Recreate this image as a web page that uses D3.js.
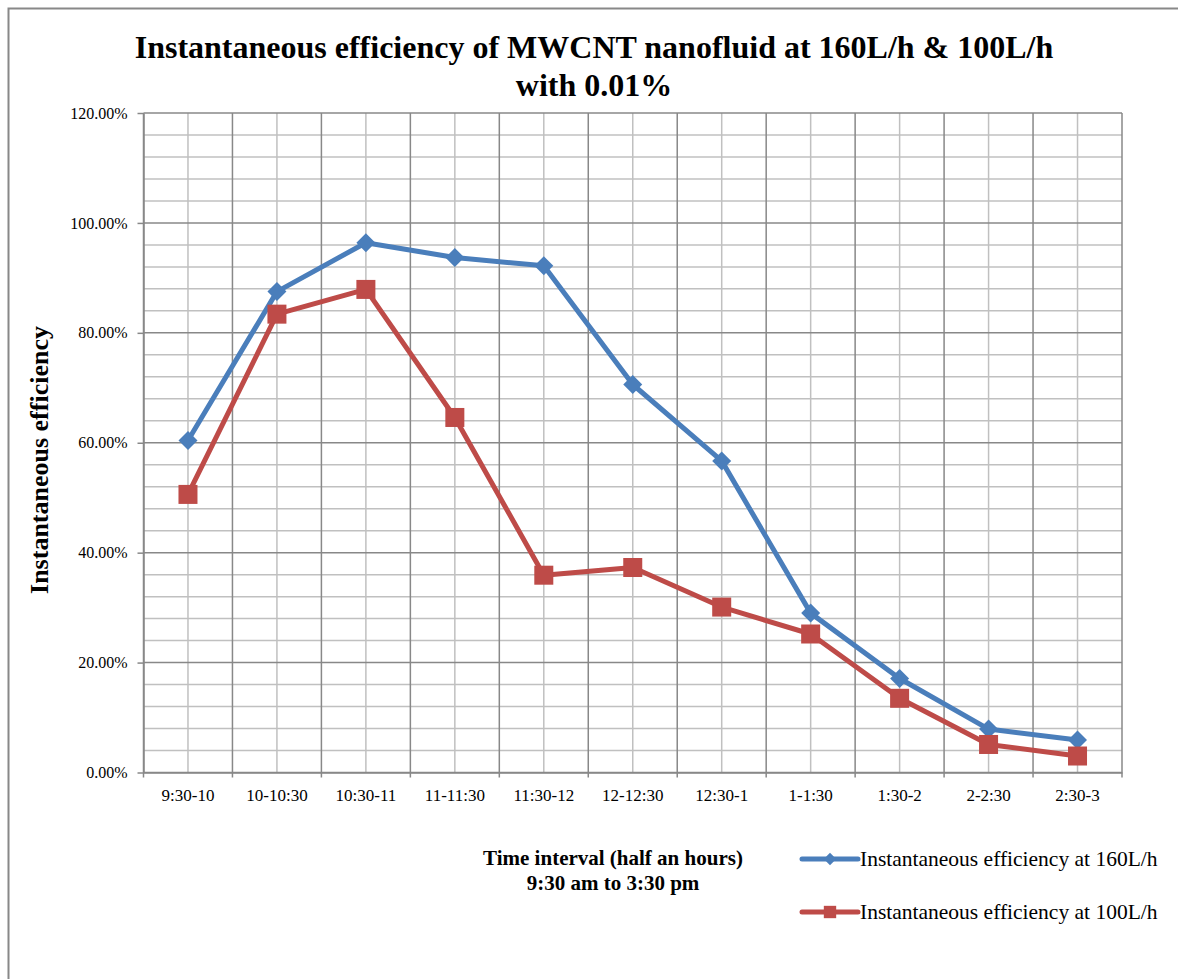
<!DOCTYPE html>
<html>
<head>
<meta charset="utf-8">
<script src="https://cdn.jsdelivr.net/npm/d3@7"></script>
<style>
  body { margin: 0; background: #fff; }
  svg { display: block; font-family: "Liberation Serif", "Times New Roman", serif; }
</style>
</head>
<body>
<svg id="chart" width="1178" height="979"></svg>
<script>
// Données
const categories = ['9:30-10', '10-10:30', '10:30-11', '11-11:30', '11:30-12', '12-12:30',
  '12:30-1', '1-1:30', '1:30-2', '2-2:30', '2:30-3'];
const eff160 = [0.604, 0.875, 0.964, 0.937, 0.922, 0.706, 0.567, 0.290, 0.171, 0.079, 0.059];
const eff100 = [0.506, 0.834, 0.879, 0.646, 0.359, 0.373, 0.301, 0.252, 0.135, 0.051, 0.030];
const yTicks = [0, 0.2, 0.4, 0.6, 0.8, 1.0, 1.2];

const series = [
  { name: 'Instantaneous efficiency at 160L/h', values: eff160, color: '#4A7EBB', marker: 'diamond' },
  { name: 'Instantaneous efficiency at 100L/h', values: eff100, color: '#BE4B48', marker: 'square' }
];

const svg = d3.select('#chart');
const margin = { left: 143.5, right: 1122, top: 113, bottom: 772.5 };

// Cadre du graphique
svg.append('rect')
  .attr('x', 8.5).attr('y', 8.5)
  .attr('width', 1200).attr('height', 1000)
  .attr('fill', 'none').attr('stroke', '#888').attr('stroke-width', 2);

// Titre
svg.append('text')
  .attr('x', 594).attr('y', 58)
  .attr('text-anchor', 'middle')
  .attr('font-weight', 'bold').attr('font-size', 32)
  .text('Instantaneous efficiency of MWCNT nanofluid at 160L/h & 100L/h');
svg.append('text')
  .attr('x', 594).attr('y', 96)
  .attr('text-anchor', 'middle')
  .attr('font-weight', 'bold').attr('font-size', 32)
  .text('with 0.01%');

// Échelles
const x = d3.scaleBand().domain(categories).range([margin.left, margin.right]);
const y = d3.scaleLinear().domain([0, 1.2]).range([margin.bottom, margin.top]);

const grid = svg.append('g');

// Grille horizontale mineure (tous les 4 %)
grid.selectAll('.hminor')
  .data(d3.range(0, 1.2001, 0.04).filter(v => Math.round(v * 100) % 20 !== 0))
  .enter().append('line')
  .attr('x1', margin.left).attr('x2', margin.right)
  .attr('y1', d => y(d)).attr('y2', d => y(d))
  .attr('stroke', '#c0c0c0').attr('stroke-width', 1.5);

// Grille verticale mineure (centres des catégories)
grid.selectAll('.vminor')
  .data(categories)
  .enter().append('line')
  .attr('x1', d => x(d) + x.bandwidth() / 2).attr('x2', d => x(d) + x.bandwidth() / 2)
  .attr('y1', margin.top).attr('y2', margin.bottom)
  .attr('stroke', '#c0c0c0').attr('stroke-width', 1.5);

// Grille horizontale majeure
grid.selectAll('.hmajor')
  .data(yTicks)
  .enter().append('line')
  .attr('x1', margin.left).attr('x2', margin.right)
  .attr('y1', d => y(d)).attr('y2', d => y(d))
  .attr('stroke', '#888').attr('stroke-width', 1.5);

// Grille verticale majeure (limites des catégories)
const bounds = categories.map(c => x(c)).concat([margin.right]);
grid.selectAll('.vmajor')
  .data(bounds)
  .enter().append('line')
  .attr('x1', d => d).attr('x2', d => d)
  .attr('y1', margin.top).attr('y2', margin.bottom + 5)
  .attr('stroke', '#888').attr('stroke-width', 1.5);

// Axe Y
const yAxis = svg.append('g')
  .attr('transform', `translate(${margin.left},0)`)
  .call(d3.axisLeft(y).tickValues(yTicks).tickFormat(d3.format('.2%')).tickSize(6).tickSizeOuter(0));
yAxis.select('.domain').attr('stroke', '#888').attr('stroke-width', 1.5);
yAxis.selectAll('.tick line').attr('stroke', '#888').attr('stroke-width', 1.5);
yAxis.selectAll('.tick text')
  .attr('font-family', '"Liberation Serif", serif')
  .attr('font-size', 16).attr('fill', '#000').attr('x', -16);

// Axe X
const xAxis = svg.append('g')
  .attr('transform', `translate(0,${margin.bottom})`)
  .call(d3.axisBottom(x).tickSize(0).tickSizeOuter(0));
xAxis.select('.domain').attr('stroke', '#888').attr('stroke-width', 1.5);
xAxis.selectAll('.tick text')
  .attr('font-family', '"Liberation Serif", serif')
  .attr('font-size', 17).attr('fill', '#000').attr('dy', 0).attr('y', 28);

// Titres des axes
svg.append('text')
  .attr('transform', 'translate(48,460) rotate(-90)')
  .attr('text-anchor', 'middle')
  .attr('font-weight', 'bold').attr('font-size', 26)
  .text('Instantaneous efficiency');

svg.append('text')
  .attr('x', 613).attr('y', 865)
  .attr('text-anchor', 'middle')
  .attr('font-weight', 'bold').attr('font-size', 21)
  .text('Time interval (half an hours)');
svg.append('text')
  .attr('x', 613).attr('y', 890)
  .attr('text-anchor', 'middle')
  .attr('font-weight', 'bold').attr('font-size', 21)
  .text('9:30 am to 3:30 pm');

// Marqueurs
function drawMarker(g, type, cx, cy, color, scale) {
  const s = scale || 1;
  if (type === 'diamond') {
    const r = 9.5 * s;
    g.append('path')
      .attr('d', `M${cx},${cy - r}L${cx + r},${cy}L${cx},${cy + r}L${cx - r},${cy}Z`)
      .attr('fill', color);
  } else {
    const h = 9.5 * s;
    g.append('rect')
      .attr('x', cx - h).attr('y', cy - h)
      .attr('width', 2 * h).attr('height', 2 * h)
      .attr('fill', color);
  }
}

const cx = d => x(d) + x.bandwidth() / 2;
const line = d3.line().x(d => cx(d.cat)).y(d => y(d.v));

series.forEach(s => {
  const pts = categories.map((c, i) => ({ cat: c, v: s.values[i] }));
  const g = svg.append('g');
  g.append('path')
    .datum(pts)
    .attr('d', line)
    .attr('fill', 'none')
    .attr('stroke', s.color)
    .attr('stroke-width', 5)
    .attr('stroke-linejoin', 'round');
  pts.forEach(p => drawMarker(g, s.marker, cx(p.cat), y(p.v), s.color));
});

// Légende
const legendY = [859, 912];
series.forEach((s, i) => {
  const g = svg.append('g');
  g.append('line')
    .attr('x1', 802).attr('x2', 858)
    .attr('y1', legendY[i]).attr('y2', legendY[i])
    .attr('stroke', s.color).attr('stroke-width', 5).attr('stroke-linecap', 'round');
  drawMarker(g, s.marker, 830, legendY[i], s.color, 0.65);
  g.append('text')
    .attr('x', 860).attr('y', legendY[i] + 7)
    .attr('font-size', 21.5)
    .text(s.name);
});
</script>
</body>
</html>
